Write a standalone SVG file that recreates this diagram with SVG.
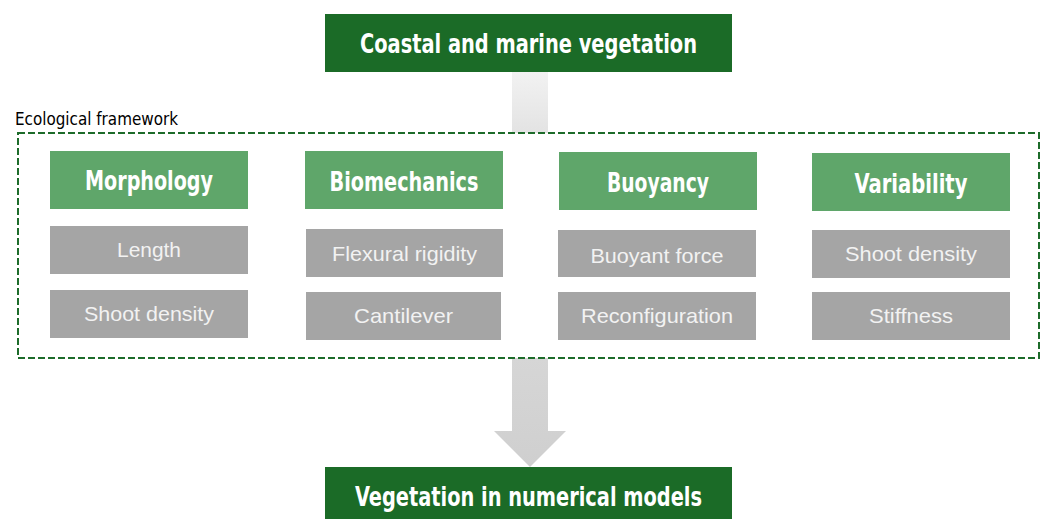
<svg xmlns="http://www.w3.org/2000/svg" width="1046" height="519" viewBox="0 0 1046 519">
  <defs>
    <linearGradient id="shaftFill" x1="0" y1="0" x2="0" y2="1">
      <stop offset="0" stop-color="#f2f2f2"/>
      <stop offset="1" stop-color="#e3e3e3"/>
    </linearGradient>
    <linearGradient id="arrowFill" x1="0" y1="0" x2="0" y2="1">
      <stop offset="0" stop-color="#d6d6d6"/>
      <stop offset="1" stop-color="#cfcfcf"/>
    </linearGradient>
  </defs>
  <style>
    .main { fill: #1b6b27; }
    .head { fill: #5fa66a; }
    .item { fill: #a5a5a5; }
    .title { font-family: "DejaVu Sans Condensed", "Liberation Sans Narrow", "Roboto", sans-serif; font-weight: bold; fill: #ffffff; text-anchor: middle; }
    .big { font-size: 27px; }
    .hd { font-size: 26px; }
    .lbl { font-family: "Liberation Sans", "Arial", sans-serif; font-size: 21px; fill: #f2f2f2; text-anchor: middle; }
    .frame { fill: none; stroke: #1d6b2a; stroke-width: 2; stroke-dasharray: 7 3; }
    .cap { font-family: "DejaVu Sans Condensed", "Liberation Sans Narrow", "Roboto", sans-serif; font-size: 18px; fill: #000000; }
  </style>

  <!-- connectors -->
  <g id="connectors">
    <rect x="512" y="72" width="36" height="61" fill="url(#shaftFill)"/>
    <polygon points="512,358 548,358 548,431 566,431 530,467 494,431 512,431" fill="url(#arrowFill)"/>
  </g>

  <!-- framework outline -->
  <g id="framework">
    <rect class="frame" x="18" y="133" width="1021" height="225"/>
    <text class="cap" x="15" y="125" textLength="163" lengthAdjust="spacingAndGlyphs">Ecological framework</text>
  </g>

  <g id="node-top">
    <rect class="main" x="325" y="14" width="407" height="58"/>
    <text class="title big" x="528.5" y="53" textLength="337" lengthAdjust="spacingAndGlyphs">Coastal and marine vegetation</text>
  </g>

  <g id="node-morphology">
    <rect class="head" x="50" y="151" width="198" height="58"/>
    <text class="title hd" x="149" y="190" textLength="128" lengthAdjust="spacingAndGlyphs">Morphology</text>
  </g>
  <g id="node-length">
    <rect class="item" x="50" y="226" width="198" height="48"/>
    <text class="lbl" x="149" y="257" textLength="64" lengthAdjust="spacingAndGlyphs">Length</text>
  </g>
  <g id="node-shoot-density-1">
    <rect class="item" x="50" y="290" width="198" height="48"/>
    <text class="lbl" x="149" y="321" textLength="130" lengthAdjust="spacingAndGlyphs">Shoot density</text>
  </g>

  <g id="node-biomechanics">
    <rect class="head" x="305" y="151" width="198" height="58"/>
    <text class="title hd" x="404" y="191" textLength="149" lengthAdjust="spacingAndGlyphs">Biomechanics</text>
  </g>
  <g id="node-flexural-rigidity">
    <rect class="item" x="306" y="229" width="197" height="48"/>
    <text class="lbl" x="404.5" y="261" textLength="145" lengthAdjust="spacingAndGlyphs">Flexural rigidity</text>
  </g>
  <g id="node-cantilever">
    <rect class="item" x="306" y="292" width="195" height="48"/>
    <text class="lbl" x="403.5" y="323" textLength="99" lengthAdjust="spacingAndGlyphs">Cantilever</text>
  </g>

  <g id="node-buoyancy">
    <rect class="head" x="559" y="152" width="198" height="58"/>
    <text class="title hd" x="658" y="192" textLength="102" lengthAdjust="spacingAndGlyphs">Buoyancy</text>
  </g>
  <g id="node-buoyant-force">
    <rect class="item" x="558" y="230" width="198" height="47"/>
    <text class="lbl" x="657" y="263" textLength="133" lengthAdjust="spacingAndGlyphs">Buoyant force</text>
  </g>
  <g id="node-reconfiguration">
    <rect class="item" x="558" y="292" width="198" height="48"/>
    <text class="lbl" x="657" y="323" textLength="152" lengthAdjust="spacingAndGlyphs">Reconfiguration</text>
  </g>

  <g id="node-variability">
    <rect class="head" x="812" y="153" width="198" height="58"/>
    <text class="title hd" x="911" y="193" textLength="113" lengthAdjust="spacingAndGlyphs">Variability</text>
  </g>
  <g id="node-shoot-density-2">
    <rect class="item" x="812" y="230" width="198" height="48"/>
    <text class="lbl" x="911" y="261" textLength="132" lengthAdjust="spacingAndGlyphs">Shoot density</text>
  </g>
  <g id="node-stiffness">
    <rect class="item" x="812" y="292" width="198" height="48"/>
    <text class="lbl" x="911" y="323" textLength="84" lengthAdjust="spacingAndGlyphs">Stiffness</text>
  </g>

  <g id="node-bottom">
    <rect class="main" x="325" y="467" width="407" height="52"/>
    <text class="title big" x="528.5" y="506" textLength="347" lengthAdjust="spacingAndGlyphs">Vegetation in numerical models</text>
  </g>
</svg>
